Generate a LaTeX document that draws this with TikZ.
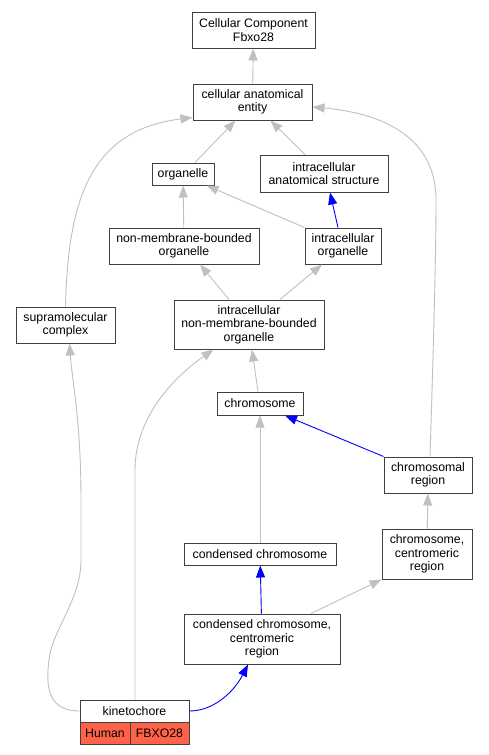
\documentclass[tikz,border=0pt]{standalone}
\usepackage{fontspec}
\setmainfont{Liberation Sans}
\usetikzlibrary{arrows.meta}
\definecolor{isagray}{RGB}{192,192,192}
\definecolor{genered}{RGB}{255,99,71}
\tikzstyle{term}=[shape=rectangle,
                draw=black!75,
                line width=1pt,
                fill=white,
                align=center,
                inner sep=0pt,
                font=\fontsize{12.3}{13.4}\selectfont]
\tikzstyle{gene}=[term,
                fill=genered,
                minimum height=22pt]
\tikzstyle{isa}=[draw=isagray,
                line width=0.9pt]
\tikzstyle{partof}=[draw=blue,
                line width=0.9pt]

\begin{document}
\begin{tikzpicture}[x=1pt,y=-1pt,>={Triangle[length=12pt,width=9pt]}]
\useasboundingbox[fill=white] (0,0) rectangle (488,755);

% ontology terms
\node[term,minimum width=123pt,minimum height=36pt] (cc)    at (253.5,30)  {Cellular Component\\Fbxo28};
\node[term,minimum width=119pt,minimum height=36pt] (cae)   at (252.5,102) {cellular anatomical\\entity};
\node[term,minimum width=62pt,minimum height=22pt]  (org)   at (183,174)   {organelle};
\node[term,minimum width=128pt,minimum height=37pt] (ias)   at (324,173.5) {intracellular\\anatomical structure};
\node[term,minimum width=150pt,minimum height=36pt] (nmbo)  at (184,246)   {non-membrane-bounded\\organelle};
\node[term,minimum width=76pt,minimum height=36pt]  (io)    at (343,246)   {intracellular\\organelle};
\node[term,minimum width=99pt,minimum height=36pt]  (smc)   at (65.5,325)  {supramolecular\\complex};
\node[term,minimum width=150pt,minimum height=49pt] (inmbo) at (249,324.5) {intracellular\\non-membrane-bounded\\organelle};
\node[term,minimum width=86pt,minimum height=23pt]  (chr)   at (260,403.5) {chromosome};
\node[term,minimum width=88pt,minimum height=36pt]  (chrr)  at (428,475)   {chromosomal\\region};
\node[term,minimum width=90pt,minimum height=50pt]  (ccr)   at (427,554)   {chromosome,\\centromeric\\region};
\node[term,minimum width=152pt,minimum height=22pt] (cch)   at (260,554)   {condensed chromosome};
\node[term,minimum width=156pt,minimum height=50pt] (cccr)  at (262,639)   {condensed chromosome,\\centromeric\\region};

% annotated term with gene row
\node[term,minimum width=109pt,minimum height=22pt] (kin)   at (134.5,711) {kinetochore};
\node[gene,minimum width=50pt]                      (human) at (105,733)   {Human};
\node[gene,minimum width=59pt]                      (fbxo)  at (159.5,733) {FBXO28};

% is_a links
\path[->] (cae) edge[isa] (cc)
          ([xshift=12pt]org.north) edge[isa] ([xshift=-17pt]cae.south)
          ([xshift=-19pt]ias.north) edge[isa] ([xshift=18pt]cae.south)
          (nmbo) edge[isa] (org)
          (io.north west) edge[isa] ([xshift=-8pt]org.south east)
          ([xshift=-20pt]inmbo.north) edge[isa] ([xshift=16pt]nmbo.south)
          ([xshift=31pt]inmbo.north) edge[isa] ([xshift=-21pt]io.south)
          ([xshift=-2pt]chr.north) edge[isa] ([xshift=3pt]inmbo.south)
          (cch) edge[isa] (chr)
          (ccr) edge[isa] (chrr)
          ([xshift=49pt]cccr.north) edge[isa] (ccr.south west);

% curved is_a links
\draw[->,isa] (smc.north) .. controls (68,200) and (90,130) .. ([yshift=3pt]cae.south west);
\draw[->,isa] ([xshift=2pt]chrr.north) .. controls (434,330) and (436,250) .. (436,200)
              .. controls (436,130) and (370,112) .. ([yshift=-5pt]cae.east);
\draw[->,isa] (kin.west) .. controls (50,711) and (45,690) .. (49,660)
              .. controls (52,630) and (81,600) .. (81,560) -- (81,500)
              .. controls (81,420) and (72,380) .. ([xshift=4pt]smc.south);
\draw[->,isa] ([xshift=0.5pt]kin.north) -- (135,470)
              .. controls (135,420) and (170,380) .. ([xshift=40pt]inmbo.south west);

% part_of links
\path[->] ([xshift=-5pt]io.north) edge[partof] ([xshift=6pt]ias.south)
          (chrr.north west) edge[partof] ([xshift=25pt]chr.south)
          (cccr) edge[partof] (cch);
\draw[->,partof] (kin.east) .. controls (215,711) and (235,690) .. ([xshift=-14pt]cccr.south);

\end{tikzpicture}
\end{document}
